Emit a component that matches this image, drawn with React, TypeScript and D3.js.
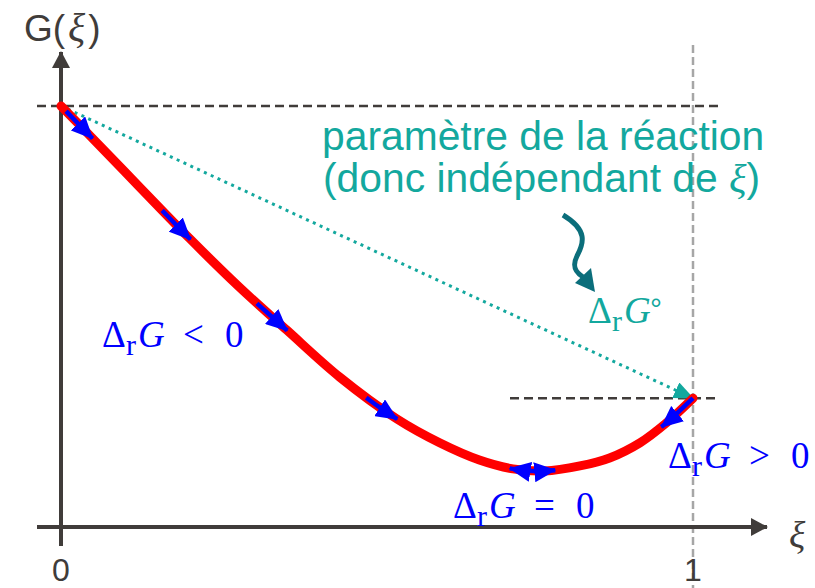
import React, { useEffect, useRef } from 'react';
import * as d3 from 'd3';

// G(ξ)
const xiValues = [0, 0.048, 0.124, 0.203, 0.282, 0.357, 0.441, 0.531, 0.599, 0.662, 0.715, 0.765, 0.821, 0.868, 0.916, 0.956, 1];
const gValues = [10, 9.26, 8.08, 6.86, 5.7, 4.68, 3.56, 2.57, 2.0, 1.59, 1.38, 1.33, 1.45, 1.64, 2.0, 2.45, 3.06];
// blue arrows along the curve: [from ξ, to ξ]
const arrowSpans = [[0.008, 0.05], [0.16, 0.205], [0.31, 0.358], [0.483, 0.532], [1, 0.95]];
const equilibriumSpan = [0.71, 0.782];
const xTickValues = [0, 1];
const xTickLabels = ['0', '1'];

const WIDTH = 815;
const HEIGHT = 588;
const AXIS = '#403c3a';
const TEAL = '#13a89e';
const DARK_TEAL = '#0b6e7b';
const BLUE = '#0000ff';
const SERIF = '"Liberation Serif", "DejaVu Serif", serif';
const SANS = '"Liberation Sans", Arial, sans-serif';

const DeltaG = ({ x, y, tail, color }) => (
  <g fill={color} fontFamily={SERIF} fontSize={37}>
    <text x={x} y={y}>Δ</text>
    <text x={x + 24} y={y + 8} fontSize={30}>r</text>
    <text x={x + 36} y={y} fontStyle="italic">G</text>
    {tail}
  </g>
);

const App = () => {
  const svgRef = useRef(null);

  useEffect(() => {
    const svg = d3.select(svgRef.current);
    svg.selectAll('*').remove();

    const x = d3.scaleLinear().domain([0, 1]).range([61, 693]);
    const y = d3.scaleLinear().domain([0, 10]).range([527, 106]);
    const x0 = x(0), x1 = x(1);
    const yAxis = y(0);
    const g0 = y(gValues[0]);
    const g1 = y(gValues[gValues.length - 1]);

    const defs = svg.append('defs');
    const marker = (id, color, w, h) => {
      defs.append('marker')
        .attr('id', id)
        .attr('viewBox', `0 0 ${w} ${h}`)
        .attr('markerUnits', 'userSpaceOnUse')
        .attr('markerWidth', w)
        .attr('markerHeight', h)
        .attr('refX', w - 1)
        .attr('refY', h / 2)
        .attr('orient', 'auto-start-reverse')
        .append('path')
        .attr('d', `M0,0 L${w},${h / 2} L0,${h} Z`)
        .attr('fill', color);
    };
    marker('blueHead', BLUE, 22, 20);
    marker('tealHead', TEAL, 20, 17);
    marker('axisHead', AXIS, 17, 18);

    // vertical grey dashed line at ξ = 1
    svg.append('line')
      .attr('x1', x1).attr('x2', x1)
      .attr('y1', 45).attr('y2', HEIGHT)
      .attr('stroke', '#a6a6a6').attr('stroke-width', 2.5)
      .attr('stroke-dasharray', '8 4');

    // horizontal dashed lines at G(0) and G(1)
    svg.append('line')
      .attr('x1', 37).attr('x2', 718)
      .attr('y1', g0).attr('y2', g0)
      .attr('stroke', AXIS).attr('stroke-width', 2.5)
      .attr('stroke-dasharray', '9 5');
    svg.append('line')
      .attr('x1', 510).attr('x2', 718)
      .attr('y1', g1).attr('y2', g1)
      .attr('stroke', AXIS).attr('stroke-width', 2.5)
      .attr('stroke-dasharray', '9 5');

    // axes
    svg.append('line')
      .attr('x1', x0).attr('x2', x0)
      .attr('y1', yAxis + 19).attr('y2', 52)
      .attr('stroke', AXIS).attr('stroke-width', 4)
      .attr('marker-end', 'url(#axisHead)');
    svg.append('line')
      .attr('x1', 37).attr('x2', 767)
      .attr('y1', yAxis).attr('y2', yAxis)
      .attr('stroke', AXIS).attr('stroke-width', 4)
      .attr('marker-end', 'url(#axisHead)');

    svg.selectAll('.xtick')
      .data(xTickValues)
      .enter().append('text')
      .attr('class', 'xtick')
      .attr('x', d => x(d))
      .attr('y', 581)
      .attr('text-anchor', 'middle')
      .attr('font-family', SANS)
      .attr('font-size', 32)
      .attr('fill', AXIS)
      .text((d, i) => xTickLabels[i]);

    // ΔrG° chord
    svg.append('line')
      .attr('x1', x0).attr('y1', g0)
      .attr('x2', x1).attr('y2', g1)
      .attr('stroke', TEAL).attr('stroke-width', 3)
      .attr('stroke-dasharray', '3 4.5')
      .attr('marker-end', 'url(#tealHead)');

    // G(ξ) curve
    const line = d3.line()
      .x(d => x(d[0]))
      .y(d => y(d[1]))
      .curve(d3.curveCatmullRom);
    const pts = xiValues.map((v, i) => [v, gValues[i]]);
    const curve = svg.append('path')
      .attr('d', line(pts))
      .attr('fill', 'none')
      .attr('stroke', '#ff0000')
      .attr('stroke-width', 9)
      .attr('stroke-linecap', 'round');

    const node = curve.node();
    const total = node.getTotalLength();
    const pointAt = (xi) => {
      const px = x(xi);
      let lo = 0, hi = total;
      for (let k = 0; k < 30; k++) {
        const mid = (lo + hi) / 2;
        if (node.getPointAtLength(mid).x < px) lo = mid; else hi = mid;
      }
      return node.getPointAtLength(lo);
    };
    const segment = (a, b) => d3.range(0, 1.0001, 0.1).map(t => {
      const p = pointAt(a + (b - a) * t);
      return [p.x, p.y];
    });

    arrowSpans.forEach(([a, b]) => {
      svg.append('path')
        .attr('d', d3.line()(segment(a, b)))
        .attr('fill', 'none')
        .attr('stroke', BLUE)
        .attr('stroke-width', 4.5)
        .attr('marker-end', 'url(#blueHead)');
    });
    svg.append('path')
      .attr('d', d3.line()(segment(equilibriumSpan[0], equilibriumSpan[1])))
      .attr('fill', 'none')
      .attr('stroke', BLUE)
      .attr('stroke-width', 4.5)
      .attr('marker-start', 'url(#blueHead)')
      .attr('marker-end', 'url(#blueHead)');

    // wavy pointer to ΔrG°
    svg.append('path')
      .attr('d', 'M563,215 C588,230 584,243 577,256 C572,266 575,272 583,277')
      .attr('fill', 'none')
      .attr('stroke', DARK_TEAL)
      .attr('stroke-width', 5);
    svg.append('path')
      .attr('d', 'M575,283 L591,268 L595,292 Z')
      .attr('fill', DARK_TEAL);
  }, []);

  return (
    <svg width={WIDTH} height={HEIGHT} style={{ position: 'absolute', left: 0, top: 0, background: '#fff' }}>
      <g ref={svgRef} />
      <text x={24} y={41} fontFamily={SANS} fontSize={37} fill={AXIS}>
        G(<tspan dx={3} fontFamily={SERIF} fontStyle="italic" fontSize={40}>ξ</tspan><tspan dx={3}>)</tspan>
      </text>
      <text x={789} y={548} fontFamily={SERIF} fontStyle="italic" fontSize={38} fill={AXIS}>ξ</text>

      <text x={322} y={150} fontFamily={SANS} fontSize={40.8} fill={TEAL}>paramètre de la réaction</text>
      <text x={323} y={192} fontFamily={SANS} fontSize={40.8} fill={TEAL}>
        (donc indépendant de <tspan fontFamily={SERIF} fontStyle="italic">ξ</tspan>)
      </text>

      <DeltaG x={588} y={323} color={TEAL}
        tail={<text x={588 + 62} y={323 - 4} fontFamily={SANS} fontSize={30}>°</text>} />
      <DeltaG x={102} y={347} color={BLUE}
        tail={<>
          <text x={102 + 81} y={347}>&lt;</text>
          <text x={102 + 123} y={347}>0</text>
        </>} />
      <DeltaG x={668} y={468} color={BLUE}
        tail={<>
          <text x={668 + 81} y={468}>&gt;</text>
          <text x={668 + 123} y={468}>0</text>
        </>} />
      <DeltaG x={453} y={518} color={BLUE}
        tail={<>
          <text x={453 + 81} y={518}>=</text>
          <text x={453 + 123} y={518}>0</text>
        </>} />
    </svg>
  );
};

export default App;
